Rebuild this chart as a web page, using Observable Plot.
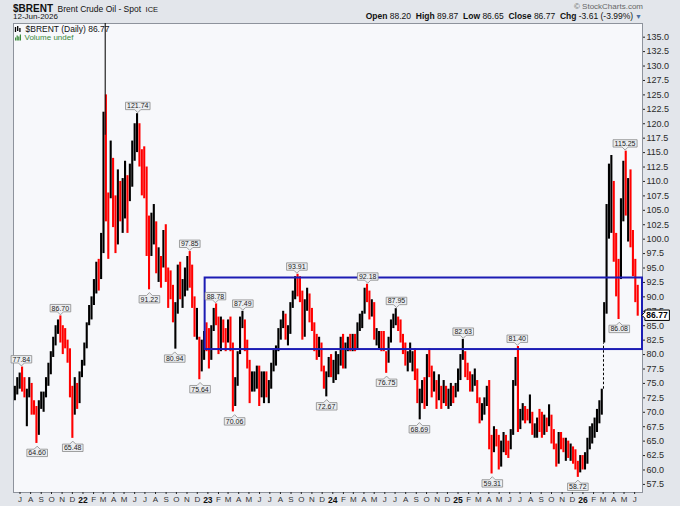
<!DOCTYPE html>
<html>
<head>
<meta charset="utf-8">
<script src="https://cdn.jsdelivr.net/npm/d3@7"></script>
<script src="https://cdn.jsdelivr.net/npm/@observablehq/plot@0.6"></script>
<style>
  html, body { margin: 0; padding: 0; background: #e3e6eb; }
  #wrap { position: relative; width: 680px; height: 506px; overflow: hidden; background: #e3e6eb;
          font-family: "Liberation Sans", Arial, sans-serif; color: #111; }
  #hdr { position: relative; height: 23px; }
  #hdr div { position: absolute; white-space: nowrap; }
  #chart svg { display: block; }
</style>
</head>
<body>
<div id="wrap">
  <div id="hdr">
    <div style="left:13px;top:1.5px;line-height:10px;height:10px">
      <span style="font-weight:bold;font-size:10px" id="sym"></span>
      <span style="font-size:8.5px" id="name"></span>
      <span style="font-size:7.5px" id="exch"></span>
    </div>
    <div style="left:13px;top:13px;font-size:8px;line-height:8.5px;height:8.5px" id="date"></div>
    <div style="right:37px;top:2px;font-size:8px;line-height:9px;color:#666">© StockCharts.com</div>
    <div style="right:38px;top:12px;font-size:8.5px;line-height:9px" id="ohlc"></div>
  </div>
  <div id="chart"></div>
</div>
<script>
// ---------------- data ----------------
const symbol = "$BRENT";
const seriesName = "Brent Crude Oil - Spot";
const exchange = "ICE";
const lastDate = "12-Jun-2026";
const lastQuote = { open: 88.20, high: 89.87, low: 86.65, close: 86.77, chg: -3.61, pct: -3.99 };

// weekly bars, first week centred on this Wednesday, one bar every 7 days
const firstWeek = "2021-06-16";
const highs = [
  74.5,76.0,76.8,77.84,76.0,74.0,76.0,75.0,72.0,71.0,72.0,73.5,73.5,76.0,78.5,80.5,83.0,85.0,86.0,86.7,85.0,84.5,82.5,81.0,74.5,76.0,75.0,77.0,79.0,
  82.0,85.5,88.5,90.0,93.0,96.0,96.5,101.0,122.0,125.0,108.0,117.0,114.0,107.5,112.0,110.0,110.5,113.5,111.0,113.0,117.0,120.0,121.74,120.0,115.5,116.0,112.5,104.0,104.5,106.0,103.0,98.5,97.0,101.5,102.5,95.0,94.5,92.0,89.0,95.5,96.0,93.0,95.0,97.0,97.85,95.5,90.0,88.0,83.0,82.5,84.0,85.5,
  84.5,85.0,88.0,88.78,86.5,86.5,86.0,84.5,86.0,86.5,82.0,76.0,80.5,86.5,87.49,86.0,82.5,79.0,77.0,77.0,78.0,78.0,77.0,77.0,77.0,75.5,78.5,81.0,81.5,84.5,86.0,87.5,87.0,85.0,89.0,91.0,93.5,93.91,93.5,91.0,89.5,91.5,90.5,88.0,85.5,83.5,83.0,82.0,78.0,77.0,79.5,80.0,
  79.0,80.5,80.0,83.0,83.5,82.0,83.0,83.5,83.5,83.5,85.5,87.0,87.5,91.5,92.18,91.0,89.5,89.0,84.5,84.0,84.0,84.0,80.5,83.0,86.0,87.0,87.95,86.5,86.0,83.5,82.0,80.5,82.0,80.5,81.0,77.5,74.0,75.5,76.0,80.0,81.0,78.0,77.0,75.5,76.5,74.5,75.5,74.5,74.0,75.0,74.5,75.0,77.5,
  80.0,82.63,80.5,78.5,77.0,76.5,77.5,75.5,72.5,71.5,72.5,74.5,75.5,66.0,67.5,67.0,66.0,65.0,66.5,66.0,65.0,67.0,75.5,79.5,81.4,70.5,71.5,71.0,70.5,73.0,70.0,68.0,69.0,70.5,70.0,69.5,69.0,71.3,69.5,67.0,64.5,66.5,66.5,65.5,65.5,65.0,64.5,64.0,63.5,61.5,62.5,62.5,
  63.0,65.5,67.5,68.0,69.0,70.5,72.0,74.0,89.0,106.0,113.0,114.5,110.0,101.0,96.5,107.0,113.5,115.25,110.5,112.0,101.5,96.5,92.0
];
const lows = [
  72.0,73.0,74.0,73.5,72.5,67.5,72.5,69.5,69.5,64.6,66.0,70.5,70.0,72.5,74.5,76.5,79.5,81.5,83.5,82.0,80.0,81.0,78.5,72.5,65.48,69.5,70.5,71.5,76.0,
  78.0,81.0,85.0,86.0,88.5,90.5,91.0,93.0,97.5,103.0,96.5,107.0,102.0,97.5,99.0,103.0,101.0,103.5,101.0,106.5,109.0,113.5,115.0,112.5,107.5,107.0,97.0,91.22,97.0,99.0,94.0,92.5,91.5,95.0,92.5,88.0,89.5,85.5,80.94,87.0,89.5,88.0,90.0,91.0,91.5,88.0,83.0,82.5,75.64,77.0,79.0,80.5,
  77.5,79.0,84.0,85.0,80.0,80.5,82.0,80.5,82.0,80.5,70.06,71.0,74.5,80.0,84.5,80.5,77.5,71.5,73.5,73.5,74.0,71.0,72.5,71.5,72.5,71.5,74.0,77.0,78.0,80.5,82.5,84.5,82.5,81.5,83.5,88.0,89.5,90.0,89.0,82.5,83.0,87.5,85.5,84.0,80.5,79.0,79.5,77.0,74.0,72.67,76.0,76.0,
  75.0,75.5,76.5,78.0,77.5,77.5,80.5,80.5,80.5,80.5,81.0,84.0,84.5,87.0,89.0,86.0,86.5,82.5,81.5,81.0,80.5,80.5,76.75,78.5,82.0,84.5,85.0,84.0,82.0,80.0,78.0,77.0,78.5,77.0,75.5,71.5,68.69,71.5,70.5,71.0,76.0,72.5,73.5,70.5,72.0,70.5,71.5,71.0,70.5,71.0,71.5,72.5,73.5,
  75.5,79.0,76.0,75.5,73.5,73.5,74.5,71.5,68.0,68.5,69.5,71.0,63.5,59.31,63.0,64.0,60.0,60.5,63.0,62.5,62.0,63.5,66.0,74.5,66.5,67.0,68.5,68.0,68.5,68.0,66.0,65.5,65.5,66.5,65.5,66.0,66.5,67.5,64.5,63.5,60.5,61.0,63.5,63.0,61.5,62.0,61.5,61.0,60.0,58.72,59.5,60.0,
  60.0,61.0,63.5,64.5,65.5,66.5,68.0,69.5,82.0,87.0,100.0,101.0,96.0,90.0,86.08,93.0,103.0,104.0,99.5,98.5,93.5,89.0,86.65
];
const closes = [
  73.5,75.5,75.8,74.5,73.5,73.5,75.0,70.5,70.0,66.0,71.5,72.5,72.5,75.5,78.0,79.0,82.5,84.5,85.0,83.5,82.5,82.0,79.5,73.5,69.5,74.5,72.5,76.5,78.5,
  81.5,85.0,87.5,89.5,92.5,94.0,93.0,97.5,118.0,110.0,105.0,113.0,104.0,100.0,110.5,105.0,108.0,111.0,108.0,111.0,116.0,119.0,120.0,113.5,112.0,110.0,103.0,99.5,101.5,103.5,95.5,96.5,95.0,100.5,94.0,92.0,91.0,86.5,87.5,94.5,91.0,91.5,93.5,96.5,93.0,89.5,84.5,85.5,77.5,80.0,83.0,82.5,
  79.0,84.5,87.0,86.5,81.0,85.5,83.0,82.5,85.5,81.5,72.5,74.5,79.5,85.0,86.5,81.0,79.0,74.5,74.5,76.0,76.5,73.0,74.5,76.5,73.5,74.5,78.0,79.5,80.5,84.0,85.5,86.5,84.0,84.5,88.5,90.5,92.5,92.0,90.5,83.5,88.5,89.5,86.5,85.0,81.5,81.0,81.5,78.0,75.0,76.5,78.5,77.0,
  77.5,78.0,78.5,82.5,78.0,81.5,82.0,81.5,82.5,81.5,85.0,85.5,87.0,90.5,90.0,87.0,88.5,83.0,83.0,83.5,81.5,81.0,79.5,82.5,85.0,86.0,86.5,85.0,82.5,81.0,78.5,79.5,79.5,79.5,76.0,72.0,72.5,74.5,71.5,79.0,78.5,73.5,76.0,73.0,73.5,71.0,74.5,71.5,71.5,74.0,72.5,74.0,76.5,
  79.5,80.5,77.0,76.5,75.0,75.0,75.5,72.5,69.5,70.5,71.5,73.5,64.5,63.5,66.5,65.5,61.5,64.0,64.5,64.0,63.0,66.5,74.5,78.5,67.5,69.5,70.5,69.5,69.0,70.0,66.5,66.5,68.5,68.0,66.5,68.5,67.5,70.0,65.0,64.0,61.5,66.0,64.5,64.0,64.5,62.5,63.0,62.5,61.0,60.0,61.5,61.0,
  62.0,64.5,66.0,67.0,68.5,69.0,71.5,73.0,87.5,104.0,108.0,110.5,98.0,94.0,93.5,105.5,111.0,106.0,108.5,100.0,96.0,90.4,86.77
];

// single-day spike of 7 March 2022 (runs off the top of the chart)
const spikeDates = ["2022-03-07"];
const spikeLow = [118.0];
const spikeHigh = [139.13];

// opening gap in March 2026 (dashed)
const gapDates = ["2026-03-02"];
const gapFrom = [74.0];
const gapTo = [82.0];

// labelled extremes
const annDates = ["2021-07-05","2021-08-20","2021-10-27","2021-12-02","2022-06-10","2022-07-14","2022-11-09","2022-09-26","2022-12-09","2023-01-23","2023-04-13","2023-03-20","2023-09-18","2023-12-14","2024-04-12","2024-07-05","2024-06-06","2024-09-10","2025-01-16","2025-06-23","2025-04-11","2025-12-17","2026-05-04","2026-04-17"];
const annValues = [77.84,64.60,86.70,65.48,121.74,91.22,97.85,80.94,75.64,88.78,87.49,70.06,93.91,72.67,92.18,87.95,76.75,68.69,82.63,81.40,59.31,58.72,115.25,86.08];
const annSides = ["hi","lo","hi","lo","hi","lo","hi","lo","lo","hi","hi","lo","hi","lo","hi","hi","lo","lo","hi","hi","lo","lo","hi","lo"];

// blue trading range box
const boxFrom = ["2022-12-24"];
const boxLow = [80.87];
const boxHigh = [93.27];

// axes
const xStart = "2021-06-12", xEnd = "2026-06-24";
const yMin = 56.1, yMax = 137.37;
const yTicks = d3.range(57.5, 135.01, 2.5);
const monthLetters = ["J","F","M","A","M","J","J","A","S","O","N","D"];

// ---------------- header ----------------
document.getElementById("sym").textContent = symbol;
document.getElementById("name").textContent = seriesName;
document.getElementById("exch").textContent = exchange;
document.getElementById("date").textContent = lastDate;
const f2 = v => v.toFixed(2);
document.getElementById("ohlc").innerHTML =
  `<b>Open</b> ${f2(lastQuote.open)} &nbsp;<b>High</b> ${f2(lastQuote.high)} &nbsp;<b>Low</b> ${f2(lastQuote.low)} &nbsp;<b>Close</b> ${f2(lastQuote.close)} &nbsp;<b>Chg</b> ${f2(lastQuote.chg)} (${f2(lastQuote.pct)}%)<span style="color:#4d6f9f;font-size:7px"> &#9660;</span>`;

// ---------------- tables ----------------
const t0 = new Date(firstWeek);
const bars = highs.map((h, i) => ({
  date: d3.utcDay.offset(t0, 7 * i),
  high: h, low: lows[i], close: closes[i],
  up: i === 0 || closes[i] >= closes[i - 1]
}));
const spikes = spikeDates.map((d, i) => ({ date: new Date(d), low: spikeLow[i], high: spikeHigh[i] }));
const gaps = gapDates.map((d, i) => ({ date: new Date(d), from: gapFrom[i], to: gapTo[i] }));
const anns = annDates.map((d, i) => ({ date: new Date(d), value: annValues[i], side: annSides[i] }));
const xDomain = [new Date(xStart), new Date(xEnd)];
const boxes = boxFrom.map((d, i) => ({ x1: new Date(d), x2: xDomain[1], y1: boxLow[i], y2: boxHigh[i] }));
const months = d3.utcMonth.range(new Date("2021-07-01"), xDomain[1]);
const lastPt = [{ x: xDomain[1], y: lastQuote.close }];

const chart = Plot.plot({
  width: 680, height: 483,
  marginLeft: 13, marginRight: 38, marginTop: 0, marginBottom: 14,
  style: { background: "transparent", fontFamily: "'Liberation Sans', Arial, sans-serif", fontSize: "9px", color: "#222" },
  x: { type: "utc", domain: xDomain },
  y: { domain: [yMin, yMax] },
  marks: [
    Plot.frame({ fill: "#f7f8fb", stroke: "#8e939c" }),
    Plot.axisY({ anchor: "right", ticks: yTicks, tickFormat: d => d.toFixed(1), tickSize: 2, tickPadding: 2, fontSize: 9, label: null, fill: "#2a2a2a" }),
    Plot.axisX({ ticks: months.filter(m => m.getUTCMonth() !== 0), tickFormat: d => monthLetters[d.getUTCMonth()], tickSize: 2, tickPadding: 2, fontSize: 8, label: null, fill: "#333" }),
    Plot.axisX({ ticks: months.filter(m => m.getUTCMonth() === 0), tickFormat: d => String(d.getUTCFullYear()).slice(2), tickSize: 2, tickPadding: 2, fontSize: 8.5, fontWeight: "bold", label: null, fill: "#111" }),
    Plot.ruleX(bars.filter(d => d.up), { x: "date", y1: "low", y2: "high", stroke: "#000", strokeWidth: 2.1, clip: true }),
    Plot.ruleX(bars.filter(d => !d.up), { x: "date", y1: "low", y2: "high", stroke: "#f00", strokeWidth: 2.1, clip: true }),
    Plot.ruleX(spikes, { x: "date", y1: "low", y2: "high", stroke: "#111", strokeWidth: 1.1, clip: true }),
    Plot.ruleX(gaps, { x: "date", y1: "from", y2: "to", stroke: "#000", strokeWidth: 1, strokeDasharray: "2.5,2" }),
    Plot.rect(boxes, { x1: "x1", x2: "x2", y1: "y1", y2: "y2", fill: "none", stroke: "#1c1cb4", strokeWidth: 2 }),
    Plot.text(anns.filter(d => d.side === "hi"), { x: "date", y: "value", text: d => d.value.toFixed(2), dy: -7.5, fontSize: 7, fill: "#222", ariaDescription: "ann-hi" }),
    Plot.text(anns.filter(d => d.side === "lo"), { x: "date", y: "value", text: d => d.value.toFixed(2), dy: 9.7, fontSize: 7, fill: "#222", ariaDescription: "ann-lo" }),
    Plot.text(lastPt, { x: "x", y: "y", text: d => d.y.toFixed(2), dx: 14.5, fontSize: 8.5, fontWeight: "bold", fill: "#000", ariaDescription: "last-lbl" }),
    Plot.text([`${symbol} (Daily) ${lastQuote.close.toFixed(2)}`], { frameAnchor: "top-left", dx: 12, dy: 2, fontSize: 8.5, fill: "#111", ariaDescription: "legend1" }),
    Plot.text(["Volume undef"], { frameAnchor: "top-left", dx: 11, dy: 10.5, fontSize: 8, fill: "#3b8a3b", ariaDescription: "legend2" })
  ]
});
document.getElementById("chart").appendChild(chart);

// ---------------- label boxes ----------------
const NS = "http://www.w3.org/2000/svg";
const textGroups = Array.from(chart.querySelectorAll('g[aria-label="text"]'));
function groupFor(desc, idx) {
  return chart.querySelector(`g[aria-description="${desc}"]`) || textGroups[idx];
}
function boxify(desc, idx, kind, fill, stroke, sw) {
  const g = groupFor(desc, idx);
  if (!g) return;
  g.querySelectorAll("text").forEach(t => {
    const b = t.getBBox();
    const x0 = b.x - 1.5, x1 = b.x + b.width + 1.5;
    const y0 = b.y - 0.2, y1 = b.y + b.height + 0.2;
    const cx = (x0 + x1) / 2, cy = (y0 + y1) / 2;
    let d;
    if (kind === "hi") d = `M${x0},${y0}H${x1}V${y1}H${cx + 3}L${cx},${y1 + 3}L${cx - 3},${y1}H${x0}Z`;
    else if (kind === "lo") d = `M${x0},${y1}H${x1}V${y0}H${cx + 3}L${cx},${y0 - 3}L${cx - 3},${y0}H${x0}Z`;
    else d = `M${x1},${y0}H${x0}V${cy - 3}L${x0 - 3},${cy}L${x0},${cy + 3}V${y1}H${x1}Z`;
    const p = document.createElementNS(NS, "path");
    p.setAttribute("d", d);
    p.setAttribute("fill", fill);
    p.setAttribute("stroke", stroke);
    p.setAttribute("stroke-width", sw);
    const tr = t.getAttribute("transform");
    if (tr) p.setAttribute("transform", tr);
    t.parentNode.insertBefore(p, t);
  });
}
boxify("ann-hi", 0, "hi", "#eceef1", "#8a8a8a", 0.8);
boxify("ann-lo", 1, "lo", "#eceef1", "#8a8a8a", 0.8);
boxify("last-lbl", 2, "left", "#ffffff", "#000", 1);

// ---------------- legend icons ----------------
const svgSel = d3.select(chart);
const ic = svgSel.append("g").attr("transform", "translate(15,3)");
[[0, 1, 6, "#000"], [2.2, 0, 5, "#000"], [4.4, 2, 6, "#000"]].forEach(([x, y1, y2, c]) =>
  ic.append("line").attr("x1", x + 0.5).attr("x2", x + 0.5).attr("y1", y1).attr("y2", y2).attr("stroke", c).attr("stroke-width", 1.3));
const ic2 = svgSel.append("g").attr("transform", "translate(15,11.5)");
[[0, 3], [1.6, 1], [3.2, 2], [4.8, 0]].forEach(([x, y]) =>
  ic2.append("rect").attr("x", x).attr("y", y).attr("width", 1.2).attr("height", 6 - y).attr("fill", "#3b8a3b"));
</script>
</body>
</html>
